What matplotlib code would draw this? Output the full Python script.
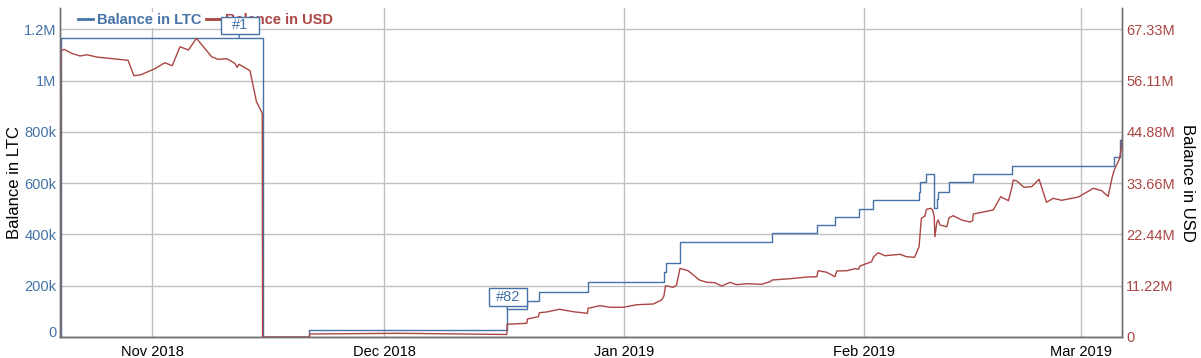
import matplotlib
matplotlib.use('Agg')
import matplotlib.pyplot as plt
import matplotlib.dates as mdates
import pandas as pd
from matplotlib.path import Path
from matplotlib.lines import Line2D

# balance in USD (millions)
usd_time = ['2018-10-20 05:00', '2018-10-20 06:00', '2018-10-20 16:00', '2018-10-21 15:00', '2018-10-22 17:00',
            '2018-10-23 15:00', '2018-10-24 20:00', '2018-10-28 22:00', '2018-10-29 16:00', '2018-10-30 14:00',
            '2018-11-01 09:00', '2018-11-02 16:00', '2018-11-03 15:00', '2018-11-04 15:00', '2018-11-05 17:00',
            '2018-11-06 18:00', '2018-11-08 17:00', '2018-11-09 13:00', '2018-11-10 16:00', '2018-11-11 17:00',
            '2018-11-12 00:00', '2018-11-12 06:00', '2018-11-13 16:00', '2018-11-14 12:00', '2018-11-15 06:00',
            '2018-11-15 07:00', '2018-11-21 08:00', '2018-11-21 09:00', '2018-12-03 01:00', '2018-12-16 20:00',
            '2018-12-16 21:00', '2018-12-19 10:00', '2018-12-19 12:00', '2018-12-20 22:00', '2018-12-21 01:00',
            '2018-12-21 23:00', '2018-12-23 15:00', '2018-12-25 10:00', '2018-12-27 06:00', '2018-12-27 08:00',
            '2018-12-28 21:00', '2018-12-30 04:00', '2018-12-31 21:00', '2019-01-02 15:00', '2019-01-04 18:00',
            '2019-01-05 20:00', '2019-01-06 03:00', '2019-01-06 08:00', '2019-01-07 08:00', '2019-01-07 18:00',
            '2019-01-08 05:00', '2019-01-09 06:00', '2019-01-10 17:00', '2019-01-11 16:00', '2019-01-12 17:00',
            '2019-01-13 14:00', '2019-01-14 16:00', '2019-01-15 12:00', '2019-01-16 19:00', '2019-01-18 18:00',
            '2019-01-19 20:00', '2019-01-20 03:00', '2019-01-22 10:00', '2019-01-24 14:00', '2019-01-25 21:00',
            '2019-01-26 01:00', '2019-01-27 04:00', '2019-01-28 05:00', '2019-01-28 11:00', '2019-01-29 18:00',
            '2019-01-30 19:00', '2019-01-31 06:00', '2019-01-31 11:00', '2019-02-01 23:00', '2019-02-02 04:00',
            '2019-02-02 19:00', '2019-02-03 16:00', '2019-02-05 15:00', '2019-02-06 11:00', '2019-02-07 12:00',
            '2019-02-08 02:00', '2019-02-08 09:00', '2019-02-08 20:00', '2019-02-09 01:00', '2019-02-09 14:00',
            '2019-02-09 20:00', '2019-02-10 01:00', '2019-02-10 03:00', '2019-02-10 09:00', '2019-02-10 13:00',
            '2019-02-10 19:00', '2019-02-11 16:00', '2019-02-11 23:00', '2019-02-12 12:00', '2019-02-13 14:00',
            '2019-02-14 16:00', '2019-02-15 00:00', '2019-02-15 02:00', '2019-02-17 16:00', '2019-02-18 15:00',
            '2019-02-19 15:00', '2019-02-20 01:00', '2019-02-20 06:00', '2019-02-20 17:00', '2019-02-21 15:00',
            '2019-02-22 15:00', '2019-02-23 14:00', '2019-02-24 13:00', '2019-02-25 10:00', '2019-02-26 12:00',
            '2019-02-28 16:00', '2019-03-02 14:00', '2019-03-03 16:00', '2019-03-04 12:00', '2019-03-05 01:00',
            '2019-03-05 07:00', '2019-03-05 23:00', '2019-03-06 05:00', '2019-03-06 07:00']
usd_m = [0, 62.55, 62.92, 62.05, 61.46, 61.74, 61.24, 60.52, 57.15, 57.37,
         58.68, 59.99, 59.34, 63.49, 62.77, 65.33, 61.30, 60.73, 60.87, 59.86,
         58.98, 59.64, 58.24, 51.46, 48.92, 0, 0, 0.66, 0.81, 0.55,
         2.78, 3.00, 3.94, 4.44, 5.31, 5.47, 6.06, 5.53, 5.18, 6.28,
         6.85, 6.50, 6.50, 7.06, 7.22, 8.09, 8.97, 11.22, 10.87, 11.37,
         15.02, 14.50, 12.47, 11.96, 11.88, 11.15, 11.96, 11.44, 11.66, 11.53,
         12.09, 12.47, 12.75, 13.12, 13.19, 14.50, 14.15, 13.19, 14.43, 14.50,
         14.94, 14.81, 15.53, 16.47, 17.43, 18.44, 17.78, 18.09, 17.56, 17.43,
         19.75, 25.96, 26.46, 27.93, 28.15, 27.78, 26.31, 21.94, 25.00, 25.59,
         24.49, 24.12, 26.09, 26.53, 25.59, 25.15, 25.44, 26.90, 27.78, 30.68,
         29.81, 32.52, 34.34, 34.12, 32.74, 32.87, 34.49, 29.46, 30.33, 29.90,
         30.62, 32.52, 32.00, 30.73, 35.06, 36.52, 38.93, 41.34, 43.09]

# balance in LTC (thousands), stepped
ltc_time = ['2018-10-20 05:00', '2018-10-20 06:00', '2018-11-15 07:00', '2018-11-21 08:00', '2018-12-16 21:00',
            '2018-12-19 12:00', '2018-12-21 01:00', '2018-12-27 07:00', '2019-01-06 03:00', '2019-01-06 08:00',
            '2019-01-08 05:00', '2019-01-20 02:00', '2019-01-25 23:00', '2019-01-28 06:00', '2019-01-31 07:00',
            '2019-02-02 02:00', '2019-02-08 03:00', '2019-02-08 06:00', '2019-02-08 22:00', '2019-02-10 00:00',
            '2019-02-10 09:00', '2019-02-10 13:00', '2019-02-11 23:00', '2019-02-15 00:00', '2019-02-20 03:00',
            '2019-03-05 07:00', '2019-03-06 01:00', '2019-03-06 07:00']
ltc_k = [0, 1166, 0, 27, 108, 141.5, 174, 216, 254.6, 287,
         371.6, 404, 435.5, 468, 498, 534, 566.5, 603, 634, 502,
         537, 566.5, 603, 635.5, 668, 700.6, 768, 768]

# flagged transactions
flag_labels = ['#1', '#82']
flag_time = ['2018-11-12 06:00', '2018-12-16 21:00']
flag_ltc_k = [1166, 108]

ltc_ticks = [0, 200, 400, 600, 800, 1000, 1200]
ltc_tick_labels = ['0', '200k', '400k', '600k', '800k', '1M', '1.2M']
usd_tick_labels = ['0', '11.22M', '22.44M', '33.66M', '44.88M', '56.11M', '67.33M']

BLUE = '#4572A7'
RED = '#AA4643'
usd_per_ltc = 56.1

plt.rcParams['font.family'] = 'Liberation Sans'

fig = plt.figure(figsize=(12.01, 3.58), dpi=100)
ax = fig.add_axes([60 / 1201, 21 / 358, 1062 / 1201, 329 / 358])
ax2 = ax.twinx()

ax.step(pd.to_datetime(ltc_time), [v * 1000 for v in ltc_k], where='post', color=BLUE, lw=1.0)
ax2.plot(pd.to_datetime(usd_time), [v * 1e6 for v in usd_m], color=RED, lw=1.0)

ax.set_xlim(pd.Timestamp('2018-10-20 03:00'), pd.Timestamp('2019-03-06 07:00'))
ymax = 1282.7e3
ax.set_ylim(0, ymax)
ax2.set_ylim(0, ymax * usd_per_ltc)

ax.set_yticks([t * 1000 for t in ltc_ticks])
ax.set_yticklabels(ltc_tick_labels)
ax2.set_yticks([t * 1000 * usd_per_ltc for t in ltc_ticks])
ax2.set_yticklabels(usd_tick_labels)
ax.get_yticklabels()[0].set_va('baseline')

ax.xaxis.set_major_locator(mdates.MonthLocator())
ax.xaxis.set_major_formatter(mdates.DateFormatter('%b %Y'))

ax.grid(True, color='#c0c0c0', lw=1.0)
ax.tick_params(axis='x', length=0, pad=6, labelsize=10.5, labelcolor='black')
ax.tick_params(axis='y', length=0, pad=2.5, labelsize=10.5, labelcolor=BLUE)
ax2.tick_params(axis='y', length=0, pad=3, labelsize=10.5, labelcolor=RED)

for a in (ax, ax2):
    a.spines['top'].set_visible(False)
    for s in ('left', 'right', 'bottom'):
        a.spines[s].set_color('#707070')
        a.spines[s].set_linewidth(1.0)
ax.spines['bottom'].set_color('#505050')

ax.set_ylabel('Balance in LTC', fontsize=12, color='black', va='center')
ax.yaxis.set_label_coords(-0.0425, 0.468)
ax2.set_ylabel('Balance in USD', fontsize=12, color='black', rotation=270, va='center')
ax2.yaxis.set_label_coords(1.062, 0.468)

handles = [Line2D([], [], color=BLUE, lw=2), Line2D([], [], color=RED, lw=2)]
leg = ax2.legend(handles, ['Balance in LTC', 'Balance in USD'], loc='center left',
                 bbox_to_anchor=(0.0155, 0.9635), ncol=2, frameon=True, framealpha=1,
                 edgecolor='none', facecolor='white', fancybox=False, borderpad=0.1,
                 borderaxespad=0, handlelength=1.0, handletextpad=0.3, columnspacing=0.3,
                 prop={'size': 10.5, 'weight': 'bold'})
for txt, c in zip(leg.get_texts(), [BLUE, RED]):
    txt.set_color(c)
leg.set_zorder(5)


def flag_box(x0, y0, width, height, mutation_size):
    # fixed-width label box, centred on the text
    half = 1.3 * mutation_size
    cx = x0 + width / 2
    py = 0.13 * mutation_size
    return Path([(cx - half, y0 - py), (cx + half, y0 - py),
                 (cx + half, y0 + height + py), (cx - half, y0 + height + py),
                 (cx - half, y0 - py)], closed=True)


for lab, t, v in zip(flag_labels, flag_time, flag_ltc_k):
    ann = ax2.annotate(lab, xy=(mdates.date2num(pd.Timestamp(t)), v * 1000), xycoords=ax.transData,
                       xytext=(1.2, 5.5), textcoords='offset pixels', ha='center', va='bottom',
                       fontsize=10.5, color=BLUE,
                       bbox=dict(boxstyle=flag_box, fc='white', ec=BLUE, lw=1.0),
                       arrowprops=dict(arrowstyle='-', color=BLUE, lw=1.0, shrinkA=0, shrinkB=0))
    ann.set_zorder(10)

fig.savefig('out.png', dpi=100)
